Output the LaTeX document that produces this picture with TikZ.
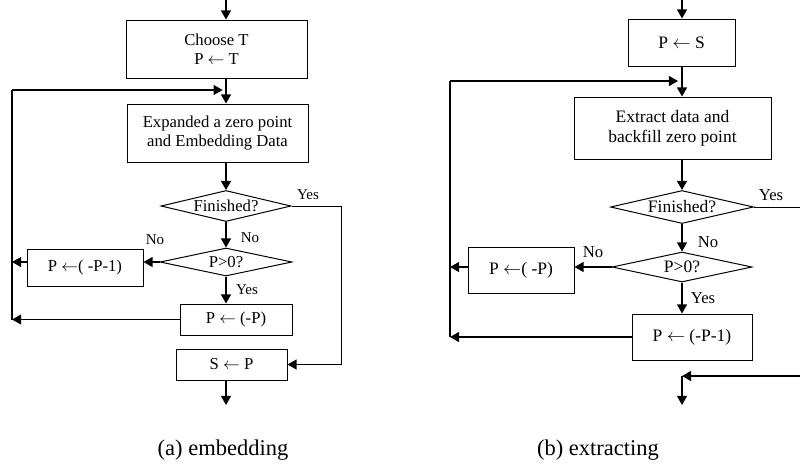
\documentclass[tikz,border=0pt]{standalone}
\usepackage{fontspec}
\setmainfont{Liberation Serif}
\usetikzlibrary{arrows.meta,shapes.geometric}

\newcommand{\assign}{$\leftarrow$}

\tikzset{
  stepbox/.style={draw, rectangle, line width=0.6pt, inner sep=0pt, align=center,
    font=\fontsize{10}{11.5}\selectfont},
  decide/.style={draw, diamond, aspect=4.2, inner sep=0pt, line width=0.6pt,
    font=\fontsize{10}{11.5}\selectfont},
  flow/.style={line width=0.9pt, -{Triangle[length=5.5pt,width=6pt]}},
  plain/.style={line width=0.9pt},
  route/.style={line width=0.6pt},
  lbl/.style={inner sep=0pt, font=\fontsize{9}{10}\selectfont},
  caption/.style={inner sep=0pt, font=\fontsize{13.5}{15}\selectfont}
}

\begin{document}
\begin{tikzpicture}[x=0.6pt, y=-0.6pt]
\useasboundingbox (0,0) rectangle (800,466);

% (a) embedding
\node[stepbox, minimum width=108.6pt, minimum height=34.8pt] (chooseT) at (216.5,49) {Choose T\\P \assign{} T};
\node[stepbox, minimum width=108.6pt, minimum height=34.8pt] (embed) at (217.5,133) {Expanded a zero point\\and Embedding Data};
\node[decide, minimum width=78pt, minimum height=18.6pt] (doneA) at (226,206) {Finished?};
\node[decide, minimum width=79.2pt, minimum height=16.8pt] (signA) at (226,262) {P>0?};
\node[stepbox, minimum width=69.6pt, minimum height=22.2pt] (flipA) at (85,267.5) {P \assign( -P-1)};
\node[stepbox, minimum width=67.2pt, minimum height=18.6pt] (negA) at (236,319.5) {P \assign{} (-P)};
\node[stepbox, minimum width=66.6pt, minimum height=18.6pt] (saveA) at (231.5,364.5) {S \assign{} P};

\coordinate (inA) at (226,0);
\coordinate (loopA) at (12,90);
\coordinate (turnA) at (341,206);
\coordinate (outA) at (226,405);

\draw[flow] (inA) -- (inA |- chooseT.north);
\draw[flow] (chooseT.south -| inA) -- (embed.north -| inA);
\draw[flow] (embed.south -| inA) -- (doneA.north);
\draw[flow] (doneA.south) -- (signA.north);
\draw[flow] (signA.west) -- (signA.west -| flipA.east);
\draw[flow] (flipA.west |- signA.west) -- (signA.west -| loopA);
\draw[flow] (signA.south) -- (negA.north -| signA.south);
\draw[flow] (negA.west) -- (negA.west -| loopA);
\draw[plain] (negA.west -| loopA) -- (loopA);
\draw[flow, shorten >=2pt] (loopA) -- (loopA -| inA);
\draw[route] (doneA.east) -- (turnA) -- (turnA |- saveA.east);
\draw[flow] (turnA |- saveA.east) -- (saveA.east);
\draw[flow] (saveA.south -| inA) -- (outA);

\node[lbl] (yesA1) at (308,195) {Yes};
\node[lbl] (noA1) at (250,238) {No};
\node[lbl] (noA2) at (155,240) {No};
\node[lbl] (yesA2) at (247,290) {Yes};
\node[caption] (capA) at (223,450) {(a) embedding};

% (b) extracting
\begin{scope}[stepbox/.append style={font=\fontsize{10.5}{12}\selectfont},
              decide/.append style={font=\fontsize{10.5}{12}\selectfont},
              lbl/.append style={font=\fontsize{10}{11}\selectfont}]
\node[stepbox, minimum width=64.2pt, minimum height=28.2pt] (loadB) at (681.5,42.5) {P \assign{} S};
\node[stepbox, minimum width=118.2pt, minimum height=37.2pt] (extract) at (672.5,128) {Extract data and\\backfill zero point};
\node[decide, minimum width=85.8pt, minimum height=19.8pt] (doneB) at (682,207) {Finished?};
\node[decide, minimum width=84pt, minimum height=18pt] (signB) at (682,267) {P>0?};
\node[stepbox, minimum width=63.6pt, minimum height=27.6pt] (negB) at (521,270) {P \assign( -P)};
\node[stepbox, minimum width=72pt, minimum height=27.6pt] (flipB) at (692,337) {P \assign{} (-P-1)};

\coordinate (inB) at (682,0);
\coordinate (loopB) at (450,81);
\coordinate (edgeB) at (800,207);
\coordinate (backB) at (800,376);
\coordinate (joinB) at (682,376);
\coordinate (outB) at (682,405);

\draw[flow] (inB) -- (inB |- loadB.north);
\draw[flow] (loadB.south -| inB) -- (extract.north -| inB);
\draw[flow] (extract.south -| inB) -- (doneB.north);
\draw[route] (doneB.east) -- (edgeB);
\draw[flow] (doneB.south) -- (signB.north);
\draw[flow] (signB.west) -- (signB.west -| negB.east);
\draw[flow] (negB.west |- signB.west) -- (signB.west -| loopB);
\draw[flow] (signB.south) -- (flipB.north -| signB.south);
\draw[flow] (flipB.west) -- (flipB.west -| loopB);
\draw[plain] (flipB.west -| loopB) -- (loopB);
\draw[flow, shorten >=2.4pt] (loopB) -- (loopB -| inB);
\draw[flow] (backB) -- (joinB);
\draw[flow] (joinB) -- (outB);

\node[lbl] (yesB1) at (771,195) {Yes};
\node[lbl] (noB1) at (708,242) {No};
\node[lbl] (noB2) at (593,252) {No};
\node[lbl] (yesB2) at (703,298) {Yes};
\end{scope}
\node[caption] (capB) at (598,450) {(b) extracting};
\end{tikzpicture}
\end{document}
